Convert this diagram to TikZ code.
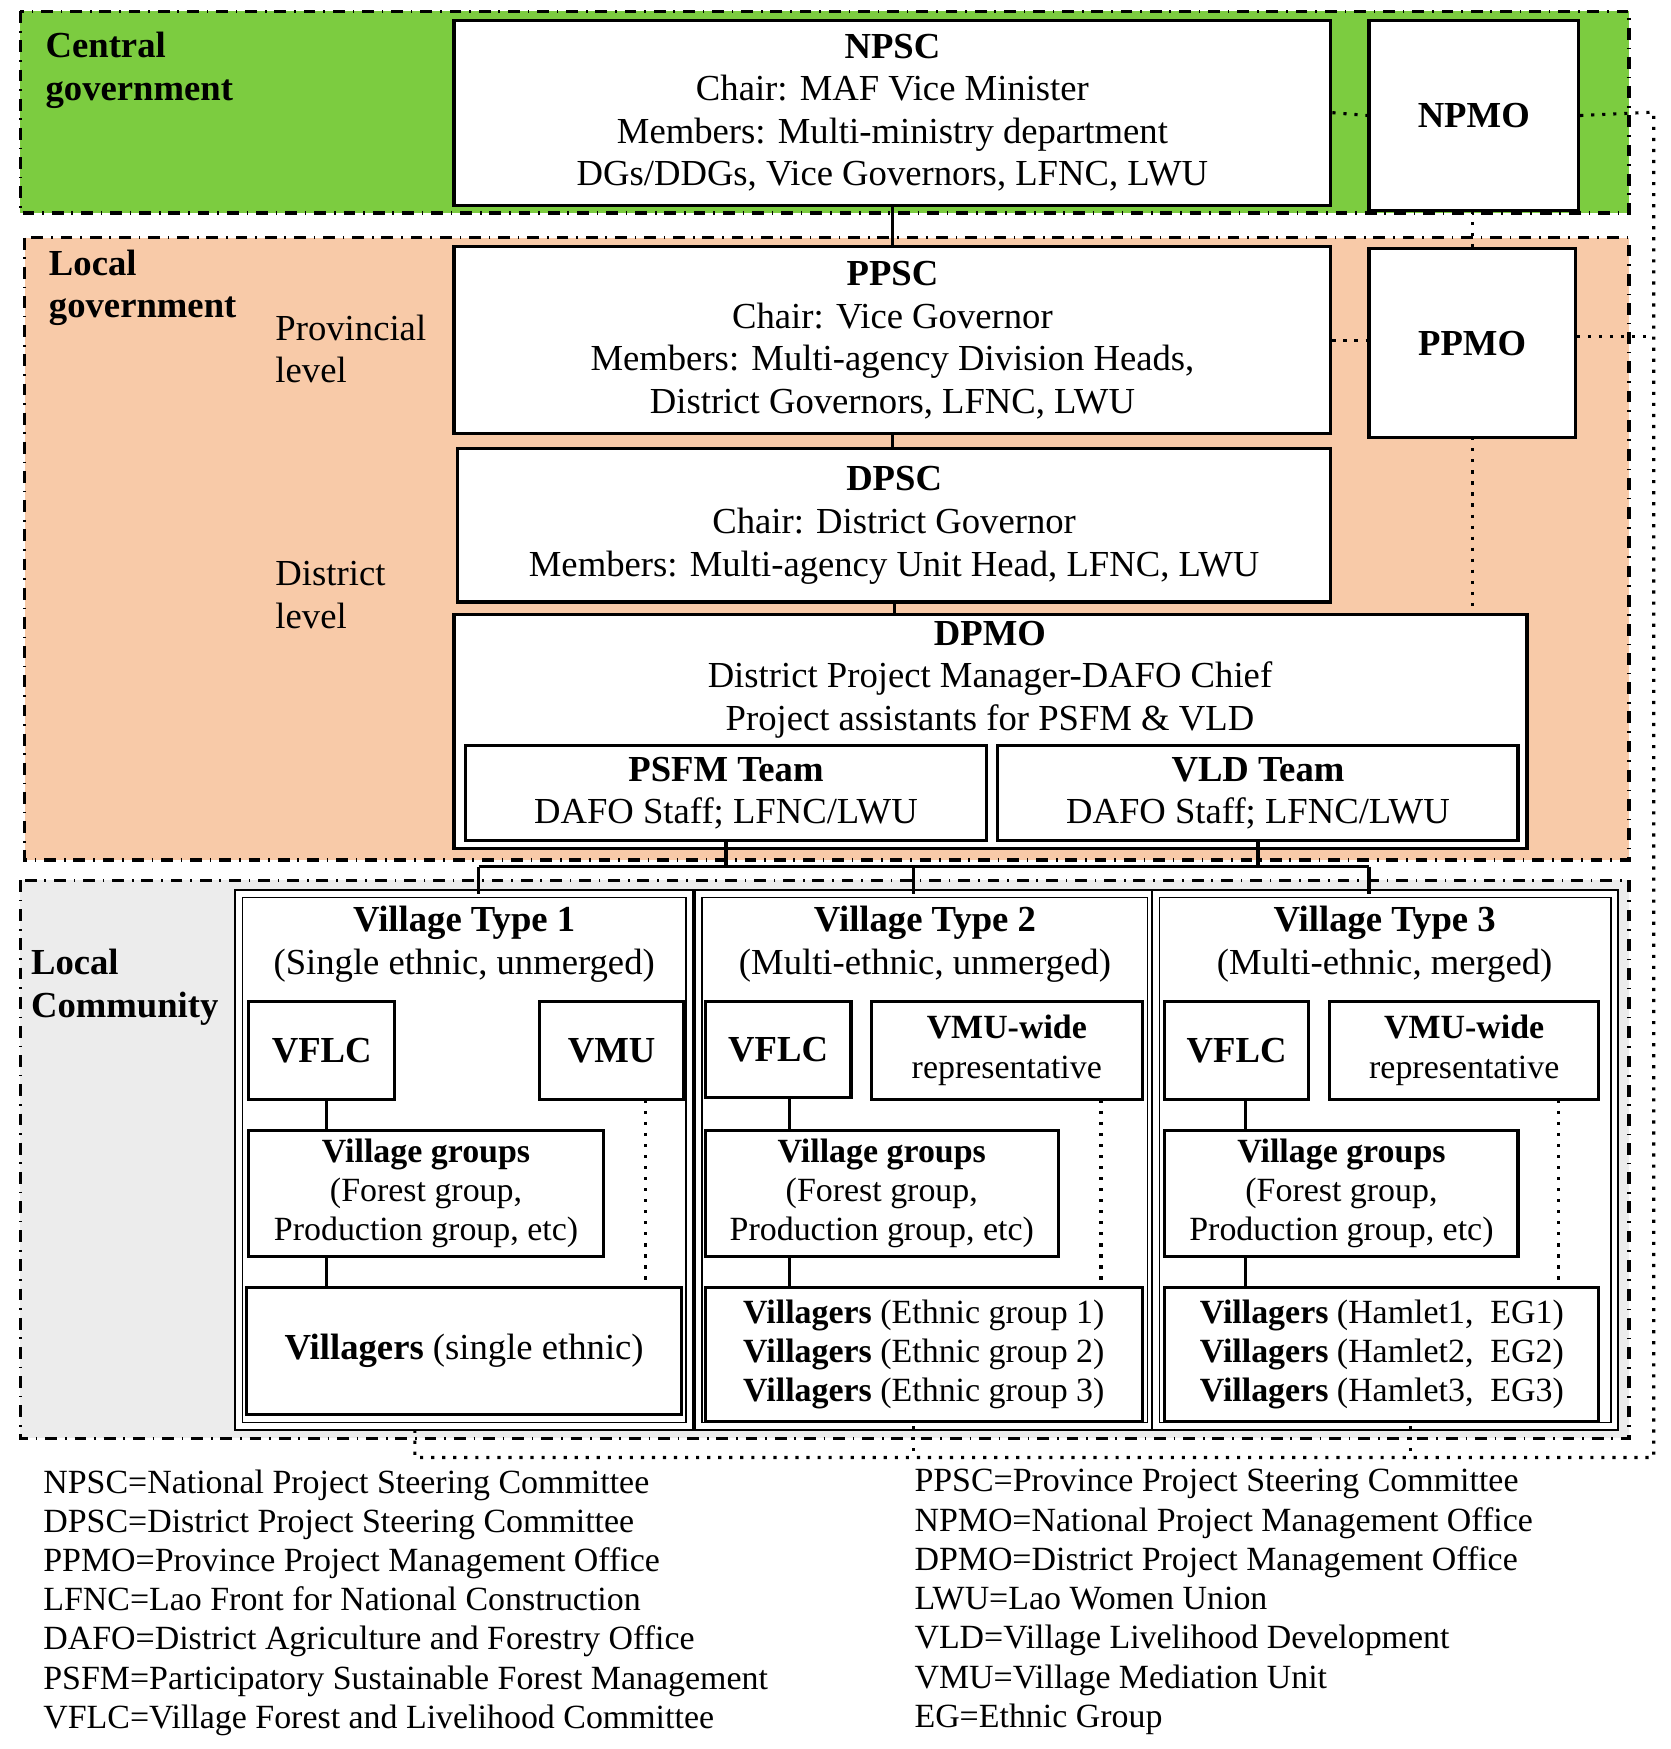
\documentclass[tikz,border=0pt]{standalone}
\usepackage{fontspec}
\setmainfont{Liberation Serif}
\usetikzlibrary{positioning}
\definecolor{centralgreen}{RGB}{124,204,64}
\definecolor{localpeach}{RGB}{248,202,168}
\definecolor{communitygray}{RGB}{236,236,236}
\tikzset{
  band/.style={draw, dash dot, thick},
  txt/.style={font=\fontsize{9.3}{10.8}\selectfont, align=center, inner sep=0pt},
  side/.style={txt, align=left, anchor=north west},
  solidlink/.style={draw, thick},
  dotlink/.style={draw, thick, dotted},
}
% box from corner (x1,y1) to (x2,y2)
\newcommand{\bx}[6][draw, thick, fill=white]{%
  \node[txt, #1, minimum width={(#4-#2)*0.01cm}, minimum height={(#5-#3)*0.01cm}]
    (#6) at ({(#2+#4)/2},{(#3+#5)/2}) {};}
\begin{document}
\begin{tikzpicture}[x=0.01cm, y=-0.01cm]
    \useasboundingbox (0,0) rectangle (1490,1560);
    % bands
    \path[band, fill=centralgreen] (18,10) rectangle (1453,190);
    \path[band, fill=localpeach] (22,212) rectangle (1453,767);
    \path[band, fill=communitygray] (18,785) rectangle (1453,1283);
    \node[side, font=\fontsize{9.3}{10.8}\selectfont\bfseries] (cg) at (40,28) {Central\\government};
    \node[side, font=\fontsize{9.3}{10.8}\selectfont\bfseries] (lg) at (43,222) {Local\\government};
    \node[side] (pl) at (245,280) {Provincial\\level};
    \node[side] (dl) at (245,500) {District\\level};
    \node[side, font=\fontsize{9.3}{10.8}\selectfont\bfseries] (lc) at (27,846) {Local\\Community};
    % government boxes
    \bx{405}{18}{1187}{183}{npsc}
    \node[txt] at (npsc) {\textbf{NPSC}\\Chair: MAF Vice Minister\\Members: Multi-ministry department\\DGs/DDGs, Vice Governors, LFNC, LWU};
    \bx{1221}{18}{1408}{188}{npmo}
    \node[txt, font=\fontsize{9.3}{10.8}\selectfont\bfseries] at (npmo) {NPMO};
    \bx{405}{220}{1187}{387}{ppsc}
    \node[txt] at (ppsc) {\textbf{PPSC}\\Chair: Vice Governor\\Members: Multi-agency Division Heads,\\District Governors, LFNC, LWU};
    \bx{1221}{222}{1405}{390}{ppmo}
    \node[txt, font=\fontsize{9.3}{10.8}\selectfont\bfseries] at (ppmo) {PPMO};
    \bx{408}{400}{1187}{537}{dpsc}
    \node[txt] at (dpsc) {\textbf{DPSC}\\Chair: District Governor\\Members: Multi-agency Unit Head, LFNC, LWU};
    \bx{405}{548}{1362}{757}{dpmo}
    \node[txt] at (883,606) {\textbf{DPMO}\\District Project Manager-DAFO Chief\\Project assistants for PSFM \& VLD};
    \bx{415}{665}{880}{750}{psfm}
    \node[txt] at (psfm) {\textbf{PSFM Team}\\DAFO Staff; LFNC/LWU};
    \bx{890}{665}{1354}{750}{vld}
    \node[txt] at (vld) {\textbf{VLD Team}\\DAFO Staff; LFNC/LWU};
    % village type boxes
    \bx[draw, double, double distance=1.5pt, fill=white]{213}{797}{615}{1272}{vta}
    \bx[draw, double, double distance=1.5pt, fill=white]{623}{797}{1027}{1272}{vtb}
    \bx[draw, double, double distance=1.5pt, fill=white]{1031}{797}{1440}{1272}{vtc}
    \node[txt] at (414,842) {\textbf{Village Type 1}\\(Single ethnic, unmerged)};
    \node[txt] at (825,842) {\textbf{Village Type 2}\\(Multi-ethnic, unmerged)};
    \node[txt] at (1235,842) {\textbf{Village Type 3}\\(Multi-ethnic, merged)};
    % village type 1
    \bx{222}{893}{352}{981}{vflca}
    \node[txt, font=\fontsize{9.3}{10.8}\selectfont\bfseries] at (vflca) {VFLC};
    \bx{481}{893}{610}{981}{vmua}
    \node[txt, font=\fontsize{9.3}{10.8}\selectfont\bfseries] at (vmua) {VMU};
    \bx{222}{1008}{538}{1121}{vga}
    \node[txt, font=\fontsize{8.6}{9.8}\selectfont] at (vga) {\textbf{Village groups}\\(Forest group,\\Production group, etc)};
    \bx{220}{1148}{608}{1262}{vila}
    \node[txt] at (vila) {\textbf{Villagers} (single ethnic)};
    % village type 2
    \bx{629}{893}{759}{979}{vflcb}
    \node[txt, font=\fontsize{9.3}{10.8}\selectfont\bfseries] at (vflcb) {VFLC};
    \bx{777}{893}{1019}{981}{vmub}
    \node[txt, font=\fontsize{8.6}{10}\selectfont] at (vmub) {\textbf{VMU-wide}\\representative};
    \bx{629}{1008}{944}{1121}{vgb}
    \node[txt, font=\fontsize{8.6}{9.8}\selectfont] at (vgb) {\textbf{Village groups}\\(Forest group,\\Production group, etc)};
    \bx{629}{1148}{1019}{1268}{vilb}
    \node[txt, font=\fontsize{8.6}{9.8}\selectfont] at (vilb) {\textbf{Villagers} (Ethnic group 1)\\\textbf{Villagers} (Ethnic group 2)\\\textbf{Villagers} (Ethnic group 3)};
    % village type 3
    \bx{1039}{893}{1167}{981}{vflcc}
    \node[txt, font=\fontsize{9.3}{10.8}\selectfont\bfseries] at (vflcc) {VFLC};
    \bx{1186}{893}{1426}{981}{vmuc}
    \node[txt, font=\fontsize{8.6}{10}\selectfont] at (vmuc) {\textbf{VMU-wide}\\representative};
    \bx{1039}{1008}{1354}{1121}{vgc}
    \node[txt, font=\fontsize{8.6}{9.8}\selectfont] at (vgc) {\textbf{Village groups}\\(Forest group,\\Production group, etc)};
    \bx{1039}{1148}{1426}{1268}{vilc}
    \node[txt, font=\fontsize{8.6}{9.8}\selectfont] at (vilc) {\textbf{Villagers} (Hamlet1,\ \ EG1)\\\textbf{Villagers} (Hamlet2,\ \ EG2)\\\textbf{Villagers} (Hamlet3,\ \ EG3)};
    % solid links
    \path[solidlink] (npsc.south) -- (ppsc.north);
    \path[solidlink] (ppsc.south) -- (ppsc.south |- dpsc.north);
    \path[solidlink] (dpsc.south) -- (dpsc.south |- dpmo.north);
    \coordinate (bus) at (0,773);
    \path[solidlink] (427,773) -- (1221,773);
    \path[solidlink] (psfm.south) -- (psfm.south |- bus);
    \path[solidlink] (vld.south) -- (vld.south |- bus);
    \path[solidlink] (427,773) -- (427,797);
    \path[solidlink] (815,773) -- (815,797);
    \path[solidlink] (1221,773) -- (1221,797);
    \path[solidlink] (291,981) -- (291,1008) (291,1121) -- (291,1148);
    \path[solidlink] (704,979) -- (704,1008) (704,1121) -- (704,1148);
    \path[solidlink] (1111,981) -- (1111,1008) (1111,1121) -- (1111,1148);
    % dotted links
    \path[dotlink] (npsc.east) -- (npmo.west);
    \path[dotlink] (ppsc.east) -- (ppmo.west |- ppsc.east);
    \path[dotlink] (1313,188) -- (1313,222);
    \path[dotlink] (1313,390) -- (1313,548);
    \path[dotlink] (npmo.east) -- (1475,100) -- (1475,1300) -- (370,1300) -- (370,1272);
    \path[dotlink] (ppmo.east |- 0,300) -- (1475,300);
    \path[dotlink] (815,1272) -- (815,1300);
    \path[dotlink] (1258,1272) -- (1258,1300);
    \path[dotlink] (576,981) -- (576,1148);
    \path[dotlink] (982,981) -- (982,1148);
    \path[dotlink] (1390,981) -- (1390,1148);
    % legend
    \node[side, font=\fontsize{8.6}{9.95}\selectfont] (legl) at (38,1310) {NPSC=National Project Steering Committee\\DPSC=District Project Steering Committee\\PPMO=Province Project Management Office\\LFNC=Lao Front for National Construction\\DAFO=District Agriculture and Forestry Office\\PSFM=Participatory Sustainable Forest Management\\VFLC=Village Forest and Livelihood Committee};
    \node[side, font=\fontsize{8.6}{9.95}\selectfont] (legr) at (815,1310) {PPSC=Province Project Steering Committee\\NPMO=National Project Management Office\\DPMO=District Project Management Office\\LWU=Lao Women Union\\VLD=Village Livelihood Development\\VMU=Village Mediation Unit\\EG=Ethnic Group};
\end{tikzpicture}
\end{document}
